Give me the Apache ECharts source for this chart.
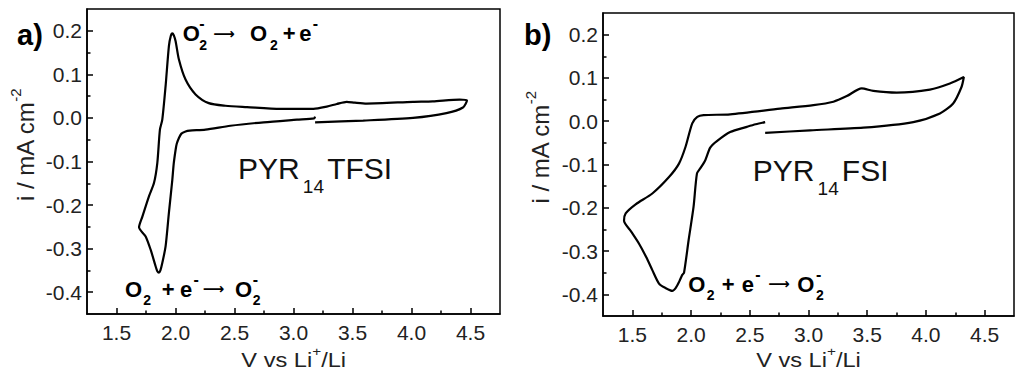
<!DOCTYPE html>
<html>
<head>
<meta charset="utf-8">
<script src="https://cdn.jsdelivr.net/npm/echarts@6/dist/echarts.min.js"></script>
<style>html,body{margin:0;padding:0;background:#fff}#c{width:1024px;height:379px}</style>
</head>
<body>
<div id="c"></div>
<script>
// ---- data ----
const xTicks = [1.5, 2.0, 2.5, 3.0, 3.5, 4.0, 4.5];
const xMinorTicks = [1.75, 2.25, 2.75, 3.25, 3.75, 4.25];
const yTicks = [-0.4, -0.3, -0.2, -0.1, 0.0, 0.1, 0.2];
const yMinorTicks = [-0.35, -0.25, -0.15, -0.05, 0.05, 0.15];

// Panel a: PYR14TFSI (potential V, current mA cm-2), in sweep order
const aV = [3.183, 3.175, 3.029, 2.747, 2.465, 2.254, 2.120, 2.085, 2.050, 2.029, 2.010, 2.001, 1.985, 1.973, 1.944, 1.916, 1.888, 1.872, 1.860, 1.846, 1.832, 1.790, 1.747, 1.691,
            1.720, 1.775, 1.818, 1.846, 1.868, 1.888, 1.916, 1.944, 1.960, 1.973, 1.985, 2.001, 2.029, 2.085, 2.170, 2.282, 2.423, 2.606, 2.888, 3.169, 3.282, 3.367, 3.451, 3.520, 3.620, 4.013, 4.180, 4.408, 4.470,
            4.436, 4.296, 4.013, 3.591, 3.183];
const aI = [0.003, -0.001, -0.004, -0.010, -0.018, -0.027, -0.029, -0.031, -0.036, -0.046, -0.060, -0.073, -0.105, -0.142, -0.218, -0.295, -0.333, -0.350, -0.355, -0.352, -0.341, -0.303, -0.272, -0.251,
            -0.226, -0.180, -0.149, -0.103, -0.027, -0.004, 0.073, 0.165, 0.188, 0.194, 0.190, 0.176, 0.134, 0.088, 0.054, 0.034, 0.028, 0.025, 0.021, 0.021, 0.026, 0.032, 0.037, 0.035, 0.033, 0.037, 0.038, 0.042, 0.040,
            0.024, 0.011, 0.000, -0.006, -0.010];

// Panel b: PYR14FSI
const bV = [2.631, 2.550, 2.475, 2.333, 2.220, 2.163, 2.121, 2.078, 2.050, 2.021, 1.979, 1.940, 1.925, 1.900, 1.870, 1.840, 1.780, 1.727, 1.670, 1.620, 1.557, 1.490, 1.429,
            1.443, 1.528, 1.670, 1.812, 1.897, 1.953, 2.010, 2.053, 2.106, 2.333, 2.759, 3.042, 3.212, 3.326, 3.453, 3.552, 3.751, 4.034, 4.204, 4.323,
            4.303, 4.232, 4.119, 3.892, 3.467, 3.014, 2.631];
const bI = [-0.002, -0.007, -0.013, -0.025, -0.046, -0.061, -0.090, -0.109, -0.121, -0.198, -0.275, -0.350, -0.355, -0.370, -0.385, -0.392, -0.385, -0.375, -0.344, -0.315, -0.283, -0.255, -0.230,
            -0.213, -0.192, -0.167, -0.129, -0.098, -0.059, -0.005, 0.010, 0.014, 0.016, 0.029, 0.037, 0.045, 0.058, 0.076, 0.070, 0.066, 0.073, 0.087, 0.102,
            0.079, 0.041, 0.018, -0.002, -0.015, -0.021, -0.027];

const xMin = 1.25, xMax = 4.75, yMin = -0.45, yMax = 0.25;

// ---- chart ----
const FONT = '"Liberation Sans", Arial, sans-serif';
const chart = echarts.init(document.getElementById('c'), null, {renderer: 'svg'});
const pairs = (xs, ys) => xs.map((x, i) => [x, ys[i]]);
const grids = [
  {left: 87, top: 9, width: 413, height: 305},
  {left: 603, top: 13, width: 411, height: 303}
];
const tickStyle = {color: '#000', width: 1.5};
const xAxes = [], yAxes = [];
grids.forEach((g, gi) => {
  xAxes.push({
    gridIndex: gi, type: 'value', min: xMin, max: xMax,
    axisLine: {show: true, onZero: false, lineStyle: tickStyle},
    axisTick: {show: true, inside: true, length: 6, customValues: xTicks, lineStyle: tickStyle},
    axisLabel: {customValues: xTicks, formatter: v => v.toFixed(1), fontSize: 21, color: '#222', margin: 8, fontFamily: FONT},
    splitLine: {show: false}
  });
  xAxes.push({
    gridIndex: gi, type: 'value', min: xMin, max: xMax, position: 'bottom',
    axisLine: {show: false, onZero: false},
    axisTick: {show: true, inside: true, length: 3.5, customValues: xMinorTicks, lineStyle: tickStyle},
    axisLabel: {show: false}, splitLine: {show: false}
  });
  yAxes.push({
    gridIndex: gi, type: 'value', min: yMin, max: yMax,
    axisLine: {show: true, onZero: false, lineStyle: tickStyle},
    axisTick: {show: true, inside: true, length: 6, customValues: yTicks, lineStyle: tickStyle},
    axisLabel: {customValues: yTicks, formatter: v => v.toFixed(1), fontSize: 21, color: '#222', margin: 5, fontFamily: FONT},
    splitLine: {show: false}
  });
  yAxes.push({
    gridIndex: gi, type: 'value', min: yMin, max: yMax, position: 'left',
    axisLine: {show: false, onZero: false},
    axisTick: {show: true, inside: true, length: 3.5, customValues: yMinorTicks, lineStyle: tickStyle},
    axisLabel: {show: false}, splitLine: {show: false}
  });
});

// rich-text helpers for chemical notation
const boldBase = {
  n:   {fontSize: 22, fontWeight: 'bold', fontFamily: FONT, fill: '#000', lineHeight: 36, verticalAlign: 'middle'},
  sub: {fontSize: 14, fontWeight: 'bold', fontFamily: FONT, fill: '#000', lineHeight: 15, verticalAlign: 'bottom'},
  sup: {fontSize: 16, fontWeight: 'bold', fontFamily: FONT, fill: '#000', lineHeight: 22, verticalAlign: 'top'},
  arr: {fontSize: 15, fontWeight: 'bold', fontFamily: '"DejaVu Sans", sans-serif', fill: '#000', lineHeight: 36, verticalAlign: 'middle'}
};
function richLine(parts, base) {
  let text = '';
  const rich = {};
  parts.forEach((p, i) => {
    const name = 't' + i;
    const st = Object.assign({}, base[p[1]]);
    if (p[2] != null) st.width = p[2];
    if (p[3]) st.align = p[3];
    rich[name] = st;
    text += '{' + name + '|' + p[0] + '}';
  });
  return {text, rich};
}
function gtext(x, y, parts, base, opts) {
  const r = richLine(parts, base);
  return Object.assign({type: 'text', x: x, y: y, silent: true,
    style: {text: r.text, rich: r.rich, textAlign: 'left', textVerticalAlign: 'middle'}}, opts || {});
}
function centered(x, y, parts, base, opts) {
  const g = gtext(x, y, parts, base, opts);
  g.style.textAlign = 'center';
  return g;
}
const ARROW = '\u27F6';
const oxidA = [['O', 'n', 16.6], ['-', 'sup', 0.01], ['2', 'sub', 14], [ARROW, 'arr', 36.7], ['O', 'n', 20], ['2', 'sub', 12.7], ['+', 'n', 16.5], ['e', 'n', 13.5], ['-', 'sup', null]];
const redA = [['O', 'n', 18.3], ['2', 'sub', 18.4], ['+', 'n', 18.3], ['e', 'n', 13.5], ['-', 'sup', 9.2], [ARROW, 'arr', 32.3], ['O', 'n', 17.7], ['-', 'sup', 0.01], ['2', 'sub', null]];
const redB = [['O', 'n', 18.4], ['2', 'sub', 15], ['+', 'n', 20], ['e', 'n', 13.5], ['-', 'sup', 13.1], [ARROW, 'arr', 29], ['O', 'n', 18.7], ['-', 'sup', 0.01], ['2', 'sub', null]];

const nameBase = {
  n:   {fontSize: 20, fontFamily: FONT, fill: '#222', lineHeight: 30, verticalAlign: 'middle'},
  sup: {fontSize: 13, fontFamily: FONT, fill: '#222', lineHeight: 18, verticalAlign: 'top'}
};
const yNameBase = {
  n:   {fontSize: 24, fontFamily: FONT, fill: '#222', lineHeight: 34, verticalAlign: 'middle'},
  sup: {fontSize: 15, fontFamily: FONT, fill: '#222', lineHeight: 18, verticalAlign: 'top'}
};
const bigBase = {
  n:   {fontSize: 30, fontFamily: FONT, fill: '#111', lineHeight: 56, verticalAlign: 'middle'},
  sub: {fontSize: 19, fontFamily: FONT, fill: '#111', lineHeight: 20, verticalAlign: 'bottom'}
};
const xName = [['V vs Li', 'n'], ['+', 'sup'], ['/Li', 'n']];
const yName = [['i / mA cm', 'n'], ['-2', 'sup']];

chart.setOption({
  animation: false,
  backgroundColor: '#fff',
  grid: grids.map(g => Object.assign({show: true, borderColor: '#000', borderWidth: 1.5, backgroundColor: 'transparent'}, g)),
  xAxis: xAxes,
  yAxis: yAxes,
  series: [
    {type: 'line', xAxisIndex: 0, yAxisIndex: 0, data: pairs(aV, aI), showSymbol: false, smooth: 0.25,
     lineStyle: {color: '#000', width: 2.2}},
    {type: 'line', xAxisIndex: 2, yAxisIndex: 2, data: pairs(bV, bI), showSymbol: false, smooth: 0.25,
     lineStyle: {color: '#000', width: 2.2}}
  ],
  graphic: [
    {type: 'text', x: 17, y: 35, style: {text: 'a)', font: 'bold 29px ' + FONT, fill: '#000', textVerticalAlign: 'middle'}},
    {type: 'text', x: 524, y: 35, style: {text: 'b)', font: 'bold 29px ' + FONT, fill: '#000', textVerticalAlign: 'middle'}},
    centered(25, 145, yName, yNameBase, {rotation: Math.PI / 2}),
    centered(540, 147.5, yName, yNameBase, {rotation: Math.PI / 2}),
    centered(293.7, 360, xName, nameBase, {scaleX: 1.18}),
    centered(808.5, 360, xName, nameBase, {scaleX: 1.18}),
    gtext(182.7, 33.7, oxidA, boldBase),
    gtext(125, 289, redA, boldBase),
    gtext(688.3, 284, redB, boldBase),
    gtext(238, 168, [['PYR', 'n'], ['14', 'sub', 27.5, 'center'], ['TFSI', 'n']], bigBase),
    gtext(752.7, 170, [['PYR', 'n'], ['14', 'sub', 27.5, 'center'], ['FSI', 'n']], bigBase)
  ]
});
</script>
</body>
</html>
